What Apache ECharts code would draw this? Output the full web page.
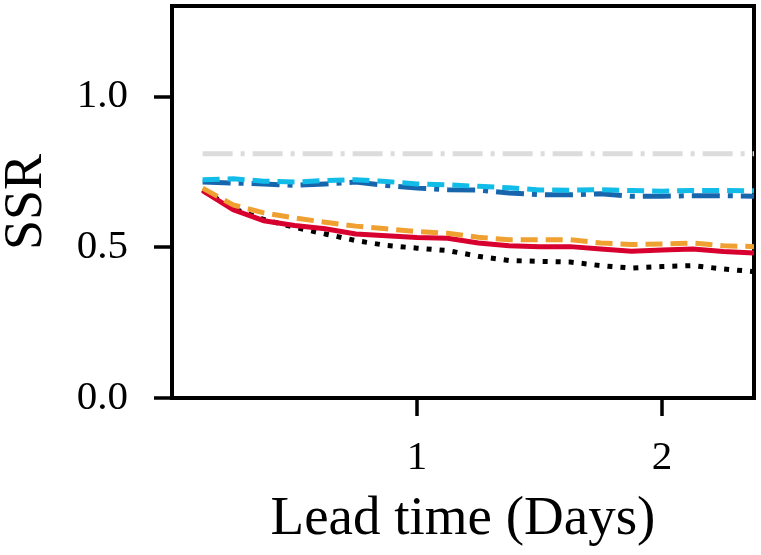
<!DOCTYPE html>
<html>
<head>
<meta charset="utf-8">
<script src="https://cdn.jsdelivr.net/npm/echarts@6/dist/echarts.min.js"></script>
<style>
html,body{margin:0;padding:0;background:#fff;}
#chart{width:761px;height:555px;}
</style>
</head>
<body>
<div id="chart"></div>
<script>
// Lead time in days
const leadTimes = [0.125, 0.25, 0.375, 0.5, 0.625, 0.75, 0.875, 1.0, 1.125, 1.25, 1.375, 1.5, 1.625, 1.75, 1.875, 2.0, 2.125, 2.25, 2.375];
const redSolid   = [0.688, 0.624, 0.588, 0.572, 0.561, 0.544, 0.538, 0.532, 0.530, 0.514, 0.505, 0.502, 0.502, 0.494, 0.487, 0.491, 0.494, 0.486, 0.481];
const orangeDash = [0.696, 0.640, 0.614, 0.597, 0.583, 0.570, 0.561, 0.552, 0.546, 0.533, 0.525, 0.525, 0.525, 0.514, 0.509, 0.511, 0.514, 0.505, 0.502];
const blackDot   = [0.690, 0.628, 0.592, 0.566, 0.544, 0.522, 0.506, 0.497, 0.489, 0.470, 0.456, 0.453, 0.451, 0.439, 0.431, 0.436, 0.439, 0.428, 0.419];
const cyanDash   = [0.724, 0.727, 0.719, 0.716, 0.721, 0.724, 0.718, 0.710, 0.707, 0.702, 0.697, 0.690, 0.689, 0.691, 0.688, 0.686, 0.688, 0.688, 0.687];
const blueDashDot= [0.716, 0.713, 0.710, 0.705, 0.710, 0.716, 0.705, 0.696, 0.691, 0.690, 0.680, 0.674, 0.674, 0.677, 0.669, 0.669, 0.671, 0.671, 0.669];
const refLevel = 0.81;
const refRange = [0.125, 2.375];
const xTicks = [1, 2];
const yTicks = [0, 0.5, 1.0];

const pair = arr => leadTimes.map((t, i) => [t, arr[i]]);
const FONT = 'Liberation Serif';

const chart = echarts.init(document.getElementById('chart'), null, {renderer: 'canvas'});
const mk = (name, data, color, type, z) => ({
  name, type: 'line', data, showSymbol: false, symbol: 'none', z,
  lineStyle: {color, width: 5, type, cap: 'butt', join: 'miter'},
  animation: false
});
chart.setOption({
  animation: false,
  grid: {left: 172, right: 7, top: 6, bottom: 157, show: true, borderColor: '#000', borderWidth: 4, backgroundColor: '#fff',
         containLabel: false, outerBoundsMode: 'none'},
  xAxis: {
    type: 'value', min: 0, max: 2.375,
    name: 'Lead time (Days)', nameLocation: 'middle', nameGap: 94,
    nameTextStyle: {fontFamily: FONT, fontSize: 55, color: '#000'},
    axisLine: {show: true, onZero: false, lineStyle: {color: '#000', width: 4}},
    axisTick: {show: true, length: 18, lineStyle: {color: '#000', width: 3.5}, customValues: xTicks},
    axisLabel: {fontFamily: FONT, fontSize: 41, color: '#000', margin: 40, customValues: xTicks, formatter: v => String(v)},
    splitLine: {show: false}
  },
  yAxis: {
    type: 'value', min: 0, max: 1.3,
    name: 'SSR', nameLocation: 'middle', nameGap: 118,
    nameTextStyle: {fontFamily: FONT, fontSize: 54, color: '#000'},
    axisLine: {show: true, lineStyle: {color: '#000', width: 4}},
    axisTick: {show: true, length: 18, lineStyle: {color: '#000', width: 3.5}, customValues: yTicks},
    axisLabel: {fontFamily: FONT, fontSize: 41, color: '#000', margin: 44, customValues: yTicks, formatter: v => v.toFixed(1)},
    splitLine: {show: false}
  },
  series: [
    mk('Reference', refRange.map(t => [t, refLevel]), '#dcdcdc', [30, 8, 4, 8], 1),
    mk('Black dotted', pair(blackDot), '#000000', [5, 8], 2),
    mk('Red', pair(redSolid), '#d7002e', 'solid', 3),
    mk('Orange', pair(orangeDash), '#f0a030', [17, 8], 4),
    mk('Dark blue', pair(blueDashDot), '#1766ad', [28, 8, 5, 8], 5),
    mk('Cyan', pair(cyanDash), '#12bce8', [17, 8], 6)
  ]
});
</script>
</body>
</html>
